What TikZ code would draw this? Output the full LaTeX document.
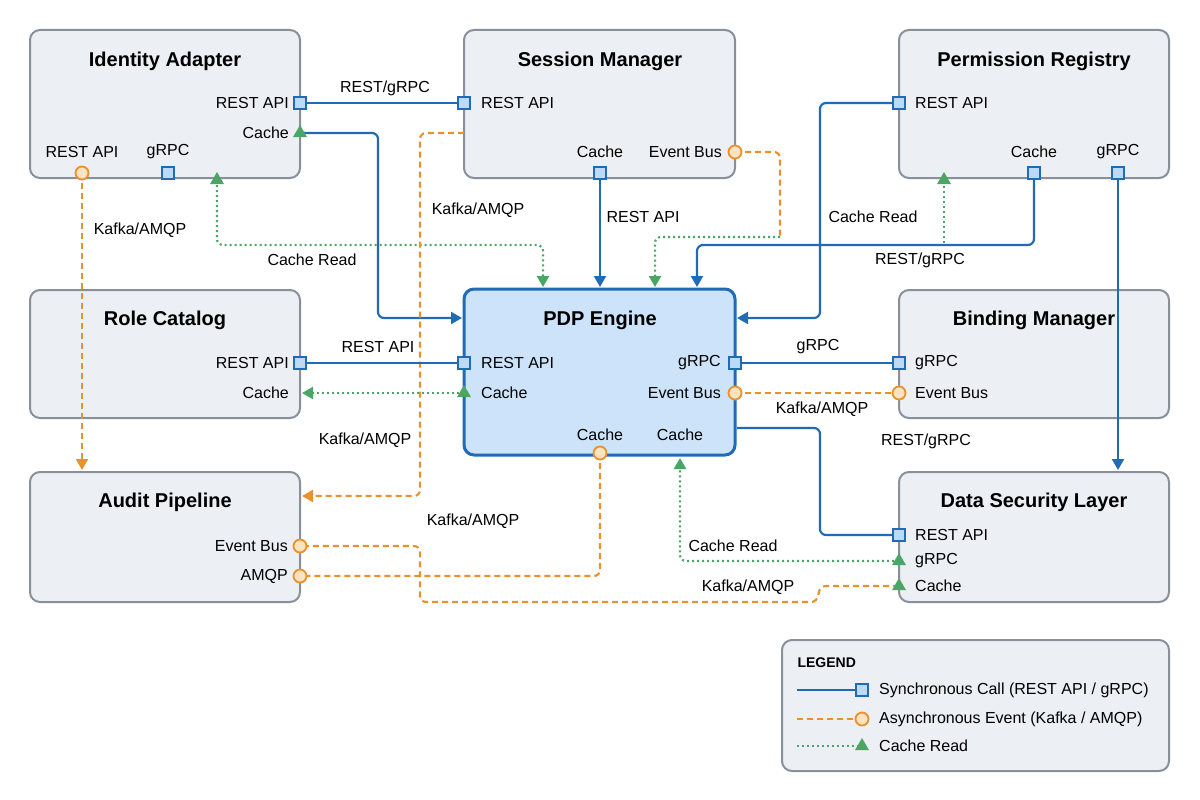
\documentclass[tikz,border=0pt]{standalone}
\usepackage{fontspec}
\setmainfont{Liberation Sans}
\usetikzlibrary{shapes.geometric,arrows.meta}
\definecolor{bx}{HTML}{ECEFF4}
\definecolor{bxd}{HTML}{8A9099}
\definecolor{bl}{HTML}{1F6BB5}
\definecolor{blf}{HTML}{BCD9F5}
\definecolor{pdp}{HTML}{CDE3FA}
\definecolor{og}{HTML}{E8912D}
\definecolor{ogf}{HTML}{FDE3C0}
\definecolor{gr}{HTML}{4BA564}
\begin{document}
\begin{tikzpicture}[x=1pt,y=-1pt,
 box/.style={draw=bxd,line width=2pt,fill=bx,rounded corners=10pt},
 ttl/.style={font=\fontsize{20}{24}\selectfont\bfseries},
 lb/.style={font=\fontsize{16}{19}\selectfont,inner sep=1pt},
 sq/.style={draw=bl,fill=blf,line width=1.5pt,minimum size=12pt,inner sep=0pt,rectangle},
 ci/.style={draw=og,fill=ogf,line width=1.8pt,minimum size=13pt,inner sep=0pt,circle},
 tr/.style={fill=gr,regular polygon,regular polygon sides=3,minimum size=16pt,inner sep=0pt},
 sync/.style={draw=bl,line width=2.2pt,rounded corners=6pt},
 asy/.style={draw=og,line width=2.2pt,dash pattern=on 6pt off 4pt,rounded corners=6pt},
 cr/.style={draw=gr,line width=2.2pt,dash pattern=on 2pt off 3pt,rounded corners=6pt},
 arb/.style={-{Triangle[width=12pt,length=11pt]}},
]
\useasboundingbox (0,0) rectangle (1200,800);
% boxes
\draw[box] (30,30) rectangle (300,178);
\draw[box] (464,30) rectangle (735,178);
\draw[box] (899,30) rectangle (1169,178);
\draw[box] (30,290) rectangle (300,418);
\draw[box] (899,290) rectangle (1169,418);
\draw[box] (30,472) rectangle (300,602);
\draw[box] (899,472) rectangle (1169,602);
\draw[draw=bl,line width=3pt,fill=pdp,rounded corners=10pt] (464,289) rectangle (735,455);
\draw[box] (782,640) rectangle (1169,771);
% titles
\node[ttl] (tIA) at (165,61) {Identity Adapter};
\node[ttl] (tSM) at (600,61) {Session Manager};
\node[ttl] (tPR) at (1034,61) {Permission Registry};
\node[ttl] (tRC) at (165,320) {Role Catalog};
\node[ttl] (tPDP) at (600,320) {PDP Engine};
\node[ttl] (tBM) at (1034,320) {Binding Manager};
\node[ttl] (tAP) at (165,502) {Audit Pipeline};
\node[ttl] (tDS) at (1034,502) {Data Security Layer};
% port coordinates
\coordinate (iaR) at (300,103); \coordinate (iaC) at (300,133);
\coordinate (iaE) at (82,173); \coordinate (iaG) at (168,173); \coordinate (iaT) at (217,180);
\coordinate (smR) at (464,103); \coordinate (smC) at (600,173); \coordinate (smE) at (735,152); \coordinate (smL) at (464,133);
\coordinate (prR) at (899,103); \coordinate (prC) at (1034,173); \coordinate (prG) at (1118,173); \coordinate (prT) at (944,180);
\coordinate (rcR) at (300,363); \coordinate (rcC) at (302,393);
\coordinate (pR) at (464,363); \coordinate (pC) at (464,393); \coordinate (pG) at (735,363); \coordinate (pE) at (735,393);
\coordinate (pB) at (600,453); \coordinate (pB2) at (680,458);
\coordinate (bmG) at (899,363); \coordinate (bmE) at (899,393);
\coordinate (apE) at (300,546); \coordinate (apA) at (300,576);
\coordinate (dsR) at (899,535); \coordinate (dsG) at (899,561); \coordinate (dsC) at (899,586);
% connectors
\draw[sync] (iaR) -- (smR);
\draw[sync,arb] (iaC) -- (378,133) -- (378,318) -- (462,318);
\draw[asy,arb] (iaE) -- (82,470);
\draw[cr,arb] (iaT) -- (217,245) -- (543,245) -- (543,287);
\draw[sync,arb] (smC) -- (600,287);
\draw[asy] (smE) -- (780,152) -- (780,237);
\draw[cr,arb] (780,237) -- (655,237) -- (655,287);
\draw[asy,arb] (smL) -- (420,133) -- (420,496) -- (302,496);
\draw[sync,arb] (prR) -- (820,103) -- (820,318) -- (737,318);
\draw[sync,arb] (prC) -- (1034,245) -- (697,245) -- (697,287);
\draw[cr] (944,243) -- (prT);
\draw[sync,arb] (prG) -- (1118,470);
\draw[sync] (rcR) -- (pR);
\draw[cr,arb] (pC) -- (rcC);
\draw[sync] (pG) -- (bmG);
\draw[asy] (pE) -- (bmE);
\draw[sync] (737,428) -- (820,428) -- (820,535) -- (dsR);
\draw[cr,arb] (dsG) -- (680,561) -- (pB2);
\draw[asy] (dsC) -- (820,586) -- (817,602) -- (420,602) -- (420,546) -- (apE);
\draw[asy] (pB) -- (600,576) -- (apA);
% markers
\node[sq] (mIaR) at (iaR) {}; \node[tr] (mIaC) at (iaC) {};
\node[ci] (mIaE) at (iaE) {}; \node[sq] (mIaG) at (iaG) {}; \node[tr] (mIaT) at (iaT) {};
\node[sq] (mSmR) at (smR) {}; \node[sq] (mSmC) at (smC) {}; \node[ci] (mSmE) at (smE) {};
\node[sq] (mPrR) at (prR) {}; \node[sq] (mPrC) at (prC) {}; \node[sq] (mPrG) at (prG) {}; \node[tr] (mPrT) at (prT) {};
\node[sq] (mRcR) at (rcR) {};
\node[sq] (mPR) at (pR) {}; \node[tr] (mPC) at (pC) {}; \node[sq] (mPG) at (pG) {}; \node[ci] (mPE) at (pE) {}; \node[ci] (mPB) at (pB) {};
\node[sq] (mBmG) at (bmG) {}; \node[ci] (mBmE) at (bmE) {};
\node[ci] (mApE) at (apE) {}; \node[ci] (mApA) at (apA) {};
\node[sq] (mDsR) at (dsR) {}; \node[tr] (mDsG) at (dsG) {}; \node[tr] (mDsC) at (dsC) {};
% port labels
\node[lb,anchor=east] (l1) at (290,103) {REST API};
\node[lb,anchor=east] (l2) at (290,133) {Cache};
\node[lb] (l3) at (82,152) {REST API};
\node[lb] (l4) at (168,152) {gRPC};
\node[lb,anchor=west] (l5) at (480,103) {REST API};
\node[lb] (l6) at (600,152) {Cache};
\node[lb,anchor=east] (l7) at (723,152) {Event Bus};
\node[lb,anchor=west] (l8) at (914,103) {REST API};
\node[lb] (l9) at (1034,152) {Cache};
\node[lb] (l10) at (1118,152) {gRPC};
\node[lb,anchor=east] (l11) at (290,363) {REST API};
\node[lb,anchor=east] (l12) at (290,393) {Cache};
\node[lb,anchor=west] (l13) at (480,363) {REST API};
\node[lb,anchor=west] (l14) at (480,393) {Cache};
\node[lb,anchor=east] (l15) at (722,363) {gRPC};
\node[lb,anchor=east] (l16) at (722,393) {Event Bus};
\node[lb] (l17) at (600,435) {Cache};
\node[lb] (l18) at (680,435) {Cache};
\node[lb,anchor=west] (l19) at (914,363) {gRPC};
\node[lb,anchor=west] (l20) at (914,393) {Event Bus};
\node[lb,anchor=east] (l21) at (289,546) {Event Bus};
\node[lb,anchor=east] (l22) at (289,576) {AMQP};
\node[lb,anchor=west] (l23) at (914,535) {REST API};
\node[lb,anchor=west] (l24) at (914,561) {gRPC};
\node[lb,anchor=west] (l25) at (914,586) {Cache};
% connector labels
\node[lb] (c1) at (385,88) {REST/gRPC};
\node[lb] (c2) at (140,230) {Kafka/AMQP};
\node[lb] (c3) at (312,260) {Cache Read};
\node[lb] (c4) at (643,217) {REST API};
\node[lb] (c5) at (478,210) {Kafka/AMQP};
\node[lb] (c6) at (873,217) {Cache Read};
\node[lb] (c7) at (920,260) {REST/gRPC};
\node[lb] (c8) at (378,347) {REST API};
\node[lb] (c9) at (365,440) {Kafka/AMQP};
\node[lb] (c10) at (818,347) {gRPC};
\node[lb] (c11) at (822,409) {Kafka/AMQP};
\node[lb] (c12) at (926,441) {REST/gRPC};
\node[lb] (c13) at (473,521) {Kafka/AMQP};
\node[lb] (c14) at (733,546) {Cache Read};
\node[lb] (c15) at (748,587) {Kafka/AMQP};
% legend
\node[font=\fontsize{14}{16}\selectfont\bfseries,anchor=west] (lg) at (794,663) {LEGEND};
\coordinate (lgA0) at (797,690); \coordinate (lgA1) at (862,690);
\coordinate (lgB0) at (797,719); \coordinate (lgB1) at (862,719);
\coordinate (lgC0) at (797,746); \coordinate (lgC1) at (862,746);
\draw[sync] (lgA0) -- (lgA1); \node[sq] (lmA) at (lgA1) {};
\draw[asy] (lgB0) -- (lgB1); \node[ci] (lmB) at (lgB1) {};
\draw[cr] (lgC0) -- (lgC1); \node[tr] (lmC) at (lgC1) {};
\node[lb,anchor=west] (lt1) at (878,690) {Synchronous Call (REST API / gRPC)};
\node[lb,anchor=west] (lt2) at (878,719) {Asynchronous Event (Kafka / AMQP)};
\node[lb,anchor=west] (lt3) at (878,746) {Cache Read};
\end{tikzpicture}
\end{document}
